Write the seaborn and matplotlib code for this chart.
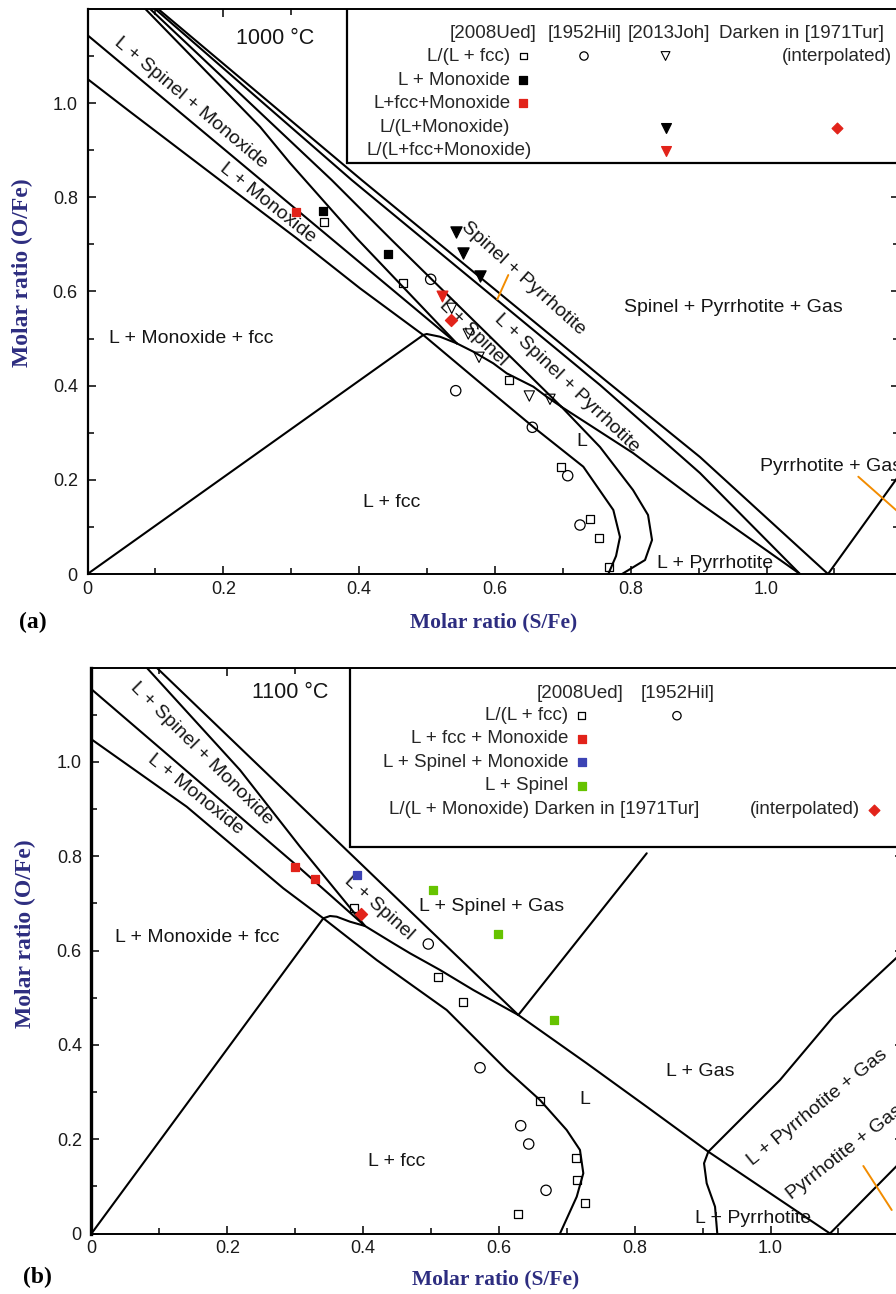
import matplotlib
matplotlib.use("Agg")
import matplotlib.pyplot as plt
from matplotlib.patches import Rectangle
import seaborn as sns

sns.set_theme(style="ticks")
SANS = ["Liberation Sans", "DejaVu Sans"]
SERIF = ["Liberation Serif", "DejaVu Serif"]
plt.rcParams["font.family"] = SANS

NAVY = "#2d2d80"
RED = "#e2231a"
BLUE = "#3c43b4"
GREEN = "#66c300"
ORANGE = "#f28c00"

# ================= Panel (a): 1000 °C  (x = S/Fe, y = O/Fe) =================
a_fcc_liq_x = [0.0, 0.0626, 0.2393, 0.3081, 0.4013, 0.4945, 0.5751, 0.6566, 0.7302, 0.7744, 0.7842, 0.7784, 0.7670]
a_fcc_liq_y = [1.051, 0.9815, 0.7877, 0.7127, 0.6066, 0.5074, 0.4098, 0.3121, 0.2278, 0.1359, 0.0786, 0.0382, 0.0]
a_fcc_tie_x = [0.0, 0.4945]
a_fcc_tie_y = [0.0, 0.5074]
a_link_x = [0.4945, 0.4996, 0.5191, 0.5437]
a_link_y = [0.5074, 0.5096, 0.5038, 0.4898]
a_mono_up_x = [0.0, 0.5437]
a_mono_up_y = [1.144, 0.4898]
a_spmo_x = [0.085, 0.254, 0.2982, 0.3965, 0.5437]
a_spmo_y = [1.2, 0.9497, 0.8726, 0.7127, 0.4898]
a_liq_sp_x = [0.5437, 0.5682, 0.5976, 0.6174, 0.637, 0.6566, 0.6763, 0.698]
a_liq_sp_y = [0.4898, 0.472, 0.4473, 0.4261, 0.4119, 0.3977, 0.3764, 0.355]
a_sp_up_x = [0.092, 0.3596, 0.448, 0.698]
a_sp_up_y = [1.2, 0.8365, 0.7091, 0.355]
a_liq_po_x = [0.698, 0.7548, 0.8034, 0.8255, 0.8314, 0.8211, 0.7872]
a_liq_po_y = [0.355, 0.2696, 0.1783, 0.1253, 0.0722, 0.0297, 0.0]
a_lspo_x = [0.698, 0.8034, 0.902, 1.0493]
a_lspo_y = [0.355, 0.2569, 0.1501, 0.0]
a_sppo_lo_x = [0.0994, 0.3891, 0.7548, 0.902, 1.0493]
a_sppo_lo_y = [1.2, 0.8365, 0.4013, 0.2144, 0.0]
a_sppo_up_x = [0.1038, 0.4038, 0.7622, 0.902, 1.0906]
a_sppo_up_y = [1.2, 0.8365, 0.4119, 0.2484, 0.0]
a_pogas_x = [1.0906, 1.2]
a_pogas_y = [0.0, 0.219]
a_tie1_x = [0.6035, 0.6197]
a_tie1_y = [0.5832, 0.6348]
a_tie2_x = [1.1352, 1.2]
a_tie2_y = [0.2066, 0.124]

# experimental points (a)
a_ued_fcc_x = [0.3488, 0.4651, 0.6212, 0.6973, 0.7400, 0.7533, 0.7685]
a_ued_fcc_y = [0.7467, 0.6172, 0.4119, 0.2265, 0.1168, 0.0758, 0.0155]
a_ued_mono_x = [0.3473, 0.4430]
a_ued_mono_y = [0.7713, 0.6794]
a_ued_3ph_x = [0.3066]
a_ued_3ph_y = [0.7679]
a_hil_x = [0.5054, 0.5423, 0.6551, 0.7072, 0.7253]
a_hil_y = [0.6257, 0.3892, 0.3115, 0.2087, 0.1040]
a_joh_fcc_x = [0.5364, 0.5608, 0.5766, 0.6507, 0.6811]
a_joh_fcc_y = [0.5641, 0.5096, 0.4601, 0.3779, 0.3709]
a_joh_mono_x = [0.5427, 0.5535, 0.5781]
a_joh_mono_y = [0.7268, 0.6809, 0.6327]
a_joh_3ph_x = [0.5216]
a_joh_3ph_y = [0.5902]
a_tur_x = [0.5349]
a_tur_y = [0.5393]

# ================= Panel (b): 1100 °C =================
b_fcc_liq_x = [0.0, 0.1402, 0.2825, 0.3414, 0.42, 0.5231, 0.6115, 0.6605, 0.6998, 0.7194, 0.7243, 0.7146, 0.69]
b_fcc_liq_y = [1.048, 0.9052, 0.7321, 0.6685, 0.58, 0.474, 0.3468, 0.2831, 0.2195, 0.1771, 0.1277, 0.078, 0.0]
b_fcc_tie_x = [0.0, 0.3414]
b_fcc_tie_y = [0.0, 0.6685]
b_link_x = [0.3414, 0.3513, 0.3611, 0.3807, 0.4028]
b_link_y = [0.6685, 0.6734, 0.6719, 0.6613, 0.6522]
b_mono_up_x = [0.0, 0.3071, 0.4028]
b_mono_up_y = [1.1542, 0.7745, 0.6522]
b_spmo_x = [0.0813, 0.2187, 0.3071, 0.4028]
b_spmo_y = [1.2, 0.983, 0.8204, 0.6522]
b_liq_sp_x = [0.4028, 0.4445, 0.4691, 0.5133, 0.5623, 0.6286]
b_liq_sp_y = [0.6522, 0.6155, 0.5943, 0.5589, 0.5164, 0.4634]
b_sp_up_x = [0.096, 0.6286]
b_sp_up_y = [1.2, 0.4634]
b_spgas_x = [0.6286, 0.8177]
b_spgas_y = [0.4634, 0.8064]
b_lgas_x = [0.6286, 0.7293, 0.8177, 0.9084, 1.0876]
b_lgas_y = [0.4634, 0.361, 0.2689, 0.1735, 0.0]
b_liq_po_x = [0.9084, 0.9021, 0.906, 0.9183, 0.9216]
b_liq_po_y = [0.1735, 0.1489, 0.1065, 0.0568, 0.0]
b_lpogas_x = [0.9084, 1.014, 1.0925, 1.1848, 1.2]
b_lpogas_y = [0.1735, 0.3256, 0.4598, 0.5837, 0.604]
b_pogas_x = [1.0876, 1.1848, 1.2]
b_pogas_y = [0.0, 0.1417, 0.164]
b_tie_x = [1.1367, 1.1785]
b_tie_y = [0.1432, 0.0498]

# experimental points (b)
b_ued_fcc_x = [0.3866, 0.5099, 0.5471, 0.6605, 0.7136, 0.7155, 0.7268, 0.6286]
b_ued_fcc_y = [0.6897, 0.5446, 0.4903, 0.2817, 0.1595, 0.1135, 0.0640, 0.0407]
b_ued_3ph_x = [0.2997, 0.3292]
b_ued_3ph_y = [0.7767, 0.7512]
b_ued_spmo_x = [0.3906]
b_ued_spmo_y = [0.7603]
b_ued_sp_x = [0.5025, 0.5982, 0.6812]
b_ued_sp_y = [0.7285, 0.6350, 0.4528]
b_hil_x = [0.4960, 0.5722, 0.6321, 0.6439, 0.6694]
b_hil_y = [0.6140, 0.3516, 0.2286, 0.1898, 0.0916]
b_tur_x = [0.3969]
b_tur_y = [0.6770]

# tick labels
x_major = [0.0, 0.2, 0.4, 0.6, 0.8, 1.0]
x_major_labels = ["0", "0.2", "0.4", "0.6", "0.8", "1.0"]
x_minor = [0.1, 0.3, 0.5, 0.7, 0.9, 1.1]
y_major = [0.0, 0.2, 0.4, 0.6, 0.8, 1.0]
y_major_labels = ["0", "0.2", "0.4", "0.6", "0.8", "1.0"]
y_minor = [0.1, 0.3, 0.5, 0.7, 0.9, 1.1]

# ---------------- helpers ----------------
def line(ax, x, y, color="black", lw=1.5):
    sns.lineplot(x=x, y=y, sort=False, estimator=None, color=color, lw=lw,
                 ax=ax, legend=False, zorder=2)


def pts(ax, x, y, marker, s, face, edge="black", lw=0.9):
    sns.scatterplot(x=x, y=y, marker=marker, s=s, color=edge, facecolor=face,
                    edgecolor=edge, linewidth=lw, ax=ax, legend=False, zorder=4)


def mark(ax, x, y, marker, s, face, edge="black", lw=0.9):
    ax.scatter([x], [y], marker=marker, s=s, facecolor=face, edgecolor=edge,
               linewidth=lw, zorder=5, clip_on=False)


def label(ax, s, x, y, rot=0, size=14, ha="center", va="center", mode="default"):
    ax.text(x, y, s, fontsize=size, ha=ha, va=va, rotation=rotation_fix(rot),
            rotation_mode=mode, family=SANS, color="#151515", zorder=3)


def rotation_fix(r):
    return r


def style_axes(ax, left_lw=1.4):
    ax.set_xlim(0, 1.195)
    ax.set_ylim(0, 1.2)
    ax.set_xticks(x_major)
    ax.set_xticklabels(x_major_labels)
    ax.set_xticks(x_minor, minor=True)
    ax.set_yticks(y_major)
    ax.set_yticklabels(y_major_labels)
    ax.set_yticks(y_minor, minor=True)
    ax.tick_params(which="both", direction="in", top=True, right=True,
                   width=1.1, color="black", labelcolor="#1a1a1a")
    ax.tick_params(which="major", length=6)
    ax.tick_params(which="minor", length=4)
    ax.tick_params(axis="x", pad=5, labelsize=13)
    ax.tick_params(axis="y", pad=7, labelsize=13)
    for sp in ax.spines.values():
        sp.set_linewidth(1.4)
        sp.set_color("black")
    ax.spines["left"].set_linewidth(left_lw)
    ax.set_xlabel("")
    ax.set_ylabel("")
    ax.grid(False)


fig = plt.figure(figsize=(8.96, 12.94), dpi=100)
fig.patch.set_facecolor("white")
axa = fig.add_axes([0.09766, 0.55641, 0.9056, 0.43678])
axb = fig.add_axes([0.10212, 0.046754, 0.9056, 0.43725])

# ---------------- panel (a) ----------------
ax = axa
for xs, ys in [(a_fcc_liq_x, a_fcc_liq_y), (a_fcc_tie_x, a_fcc_tie_y), (a_link_x, a_link_y),
               (a_mono_up_x, a_mono_up_y), (a_spmo_x, a_spmo_y), (a_liq_sp_x, a_liq_sp_y),
               (a_sp_up_x, a_sp_up_y), (a_liq_po_x, a_liq_po_y), (a_lspo_x, a_lspo_y),
               (a_sppo_lo_x, a_sppo_lo_y), (a_sppo_up_x, a_sppo_up_y), (a_pogas_x, a_pogas_y)]:
    line(ax, xs, ys)
line(ax, a_tie1_x, a_tie1_y, color=ORANGE, lw=1.4)
line(ax, a_tie2_x, a_tie2_y, color=ORANGE, lw=1.4)

pts(ax, a_ued_fcc_x, a_ued_fcc_y, "s", 34, "none")
pts(ax, a_ued_mono_x, a_ued_mono_y, "s", 40, "black")
pts(ax, a_ued_3ph_x, a_ued_3ph_y, "s", 40, RED, edge=RED)
pts(ax, a_hil_x, a_hil_y, "o", 55, "none")
pts(ax, a_joh_fcc_x, a_joh_fcc_y, "v", 55, "none", lw=0.8)
pts(ax, a_joh_mono_x, a_joh_mono_y, "v", 65, "black")
pts(ax, a_joh_3ph_x, a_joh_3ph_y, "v", 60, RED, edge=RED)
pts(ax, a_tur_x, a_tur_y, "D", 38, RED, edge=RED)

label(ax, "1000 °C", 0.2761, 1.1374, size=15.5)
label(ax, "L + Spinel + Monoxide", 0.152, 1.0015, rot=-40)
label(ax, "L + Monoxide", 0.2648, 0.787, rot=-38.5)
label(ax, "L + Monoxide + fcc", 0.1524, 0.501)
label(ax, "Spinel + Pyrrhotite", 0.6414, 0.6285, rot=-42)
label(ax, "L + Spinel + Pyrrhotite", 0.7057, 0.4049, rot=-43.5)
label(ax, "L + Spinel", 0.5682, 0.5123, rot=-44)
label(ax, "L", 0.7278, 0.2809)
label(ax, "L + fcc", 0.448, 0.1514)
label(ax, "Spinel + Pyrrhotite + Gas", 0.9507, 0.5648)
label(ax, "Pyrrhotite + Gas", 0.9904, 0.2278, ha="left")
label(ax, "L + Pyrrhotite", 0.9242, 0.0227)

# legend table (a)
ax.add_patch(Rectangle((0.3822, 0.872), 1.0, 0.5, facecolor="white", edgecolor="black",
                       lw=1.6, zorder=2.2))
LS = 13.5
ax.text(0.6617, 1.1486, "[2008Ued]", ha="right", va="center", fontsize=LS, zorder=3)
ax.text(0.7322, 1.1486, "[1952Hil]", ha="center", va="center", fontsize=LS, zorder=3)
ax.text(0.8563, 1.1486, "[2013Joh]", ha="center", va="center", fontsize=LS, zorder=3)
ax.text(1.0508, 1.1486, "Darken in [1971Tur]", ha="center", va="center", fontsize=LS, zorder=3)
ax.text(1.1043, 1.0998, "(interpolated)", ha="center", va="center", fontsize=LS, zorder=3)
a_leg_rows = [("L/(L + fcc)", 1.0998, 0.6225), ("L + Monoxide", 1.0488, 0.6225),
              ("L+fcc+Monoxide", 0.9993, 0.6225), ("L/(L+Monoxide)", 0.9476, 0.6225),
              ("L/(L+fcc+Monoxide)", 0.8987, 0.6539)]
for txt, yy, xr in a_leg_rows:
    ax.text(xr, yy, txt, ha="right", va="center", fontsize=LS, zorder=3)
mark(ax, 0.6418, 1.0998, "s", 24, "none")
mark(ax, 0.7312, 1.0998, "o", 36, "none")
mark(ax, 0.8513, 1.0998, "v", 40, "none", lw=0.8)
mark(ax, 0.6418, 1.0488, "s", 30, "black")
mark(ax, 0.6418, 0.9993, "s", 30, RED, edge=RED)
mark(ax, 0.8513, 0.9476, "v", 50, "black")
mark(ax, 1.1031, 0.9476, "D", 30, RED, edge=RED)
mark(ax, 0.8513, 0.8987, "v", 50, RED, edge=RED)

style_axes(axa, left_lw=1.6)

# ---------------- panel (b) ----------------
ax = axb
for xs, ys in [(b_fcc_liq_x, b_fcc_liq_y), (b_fcc_tie_x, b_fcc_tie_y), (b_link_x, b_link_y),
               (b_mono_up_x, b_mono_up_y), (b_spmo_x, b_spmo_y), (b_liq_sp_x, b_liq_sp_y),
               (b_sp_up_x, b_sp_up_y), (b_spgas_x, b_spgas_y), (b_lgas_x, b_lgas_y),
               (b_liq_po_x, b_liq_po_y), (b_lpogas_x, b_lpogas_y), (b_pogas_x, b_pogas_y)]:
    line(ax, xs, ys)
line(ax, b_tie_x, b_tie_y, color=ORANGE, lw=1.4)

pts(ax, b_ued_fcc_x, b_ued_fcc_y, "s", 34, "none")
pts(ax, b_ued_3ph_x, b_ued_3ph_y, "s", 40, RED, edge=RED)
pts(ax, b_ued_spmo_x, b_ued_spmo_y, "s", 40, BLUE, edge=BLUE)
pts(ax, b_ued_sp_x, b_ued_sp_y, "s", 40, GREEN, edge=GREEN)
pts(ax, b_hil_x, b_hil_y, "o", 55, "none")
pts(ax, b_tur_x, b_tur_y, "D", 38, RED, edge=RED)

label(ax, "1100 °C", 0.2924, 1.147, size=15.5)
label(ax, "L + Spinel + Monoxide", 0.1623, 1.017, rot=-45)
label(ax, "L + Monoxide", 0.1535, 0.9321, rot=-39)
label(ax, "L + Monoxide + fcc", 0.1561, 0.6282)
label(ax, "L + Spinel", 0.4234, 0.6918, rot=-42)
label(ax, "L + Spinel + Gas", 0.5894, 0.6931)
label(ax, "L", 0.7268, 0.2846)
label(ax, "L + fcc", 0.4495, 0.1523)
label(ax, "L + Gas", 0.8962, 0.3432)
label(ax, "L + Pyrrhotite + Gas", 1.0689, 0.2677, rot=39)
label(ax, "Pyrrhotite + Gas", 1.0269, 0.079, rot=38, ha="left", mode="anchor")
label(ax, "L + Pyrrhotite", 0.9747, 0.0322)

# legend table (b)
ax.add_patch(Rectangle((0.3814, 0.8204), 1.0, 0.5, facecolor="white", edgecolor="black",
                       lw=1.6, zorder=2.2))
ax.text(0.7838, 1.1457, "[2008Ued]", ha="right", va="center", fontsize=LS, zorder=3)
ax.text(0.8629, 1.1457, "[1952Hil]", ha="center", va="center", fontsize=LS, zorder=3)
b_leg_rows = [("L/(L + fcc)", 1.0982), ("L + fcc + Monoxide", 1.0488),
              ("L + Spinel + Monoxide", 0.9994), ("L + Spinel", 0.9497)]
for txt, yy in b_leg_rows:
    ax.text(0.7025, yy, txt, ha="right", va="center", fontsize=LS, zorder=3)
ax.text(0.6663, 0.8982, "L/(L + Monoxide) Darken in [1971Tur]", ha="center", va="center",
        fontsize=LS, zorder=3)
ax.text(1.0501, 0.8982, "(interpolated)", ha="center", va="center", fontsize=LS, zorder=3)
mark(ax, 0.7221, 1.0982, "s", 24, "none")
mark(ax, 0.8622, 1.0982, "o", 36, "none")
mark(ax, 0.7221, 1.0488, "s", 30, RED, edge=RED)
mark(ax, 0.7221, 0.9994, "s", 30, BLUE, edge=BLUE)
mark(ax, 0.7221, 0.9497, "s", 30, GREEN, edge=GREEN)
mark(ax, 1.152, 0.8982, "D", 30, RED, edge=RED)

style_axes(axb, left_lw=2.4)

# ---------------- axis titles and panel letters ----------------
def ftext(px, py, s, **kw):
    fig.text(px / 896.0, 1 - py / 1294.0, s, **kw)

lab_kw = dict(family=SERIF, weight="bold", color=NAVY, ha="center", va="center")
ftext(494, 622, "Molar ratio (S/Fe)", fontsize=15.5, **lab_kw)
ftext(496, 1279, "Molar ratio (S/Fe)", fontsize=15.5, **lab_kw)
ftext(22, 273, "Molar ratio (O/Fe)", fontsize=17, rotation=90, **lab_kw)
ftext(25, 934, "Molar ratio (O/Fe)", fontsize=17, rotation=90, **lab_kw)
ftext(33, 622, "(a)", fontsize=17, family=SERIF, weight="bold", color="black",
      ha="center", va="center")
ftext(37, 1277, "(b)", fontsize=17, family=SERIF, weight="bold", color="black",
      ha="center", va="center")

fig.savefig("out.png", dpi=100)
